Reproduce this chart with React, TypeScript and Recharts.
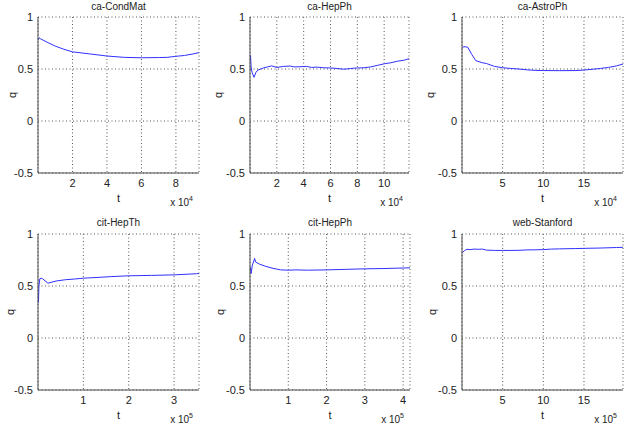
import React from "react";
import { CartesianGrid, Line, LineChart, XAxis, YAxis } from "recharts";

// q(t) traces, t in edges added
const condMatT = [200, 800, 1500, 5000, 10000, 15000, 20000, 25000, 30000, 40000, 50000, 60000, 70000, 75000, 80000, 85000, 90000, 93400];
const condMatQ = [0.78, 0.8, 0.79, 0.76, 0.72, 0.69, 0.665, 0.655, 0.645, 0.625, 0.612, 0.608, 0.61, 0.612, 0.622, 0.63, 0.645, 0.657];

const hepPhT = [200, 400, 800, 1500, 3000, 4500, 6000, 8000, 10000, 13000, 16000, 20000, 25000, 30000, 33000, 38000, 42000, 46000, 50000, 55000, 60000, 65000, 70000, 75000, 80000, 85000, 90000, 95000, 100000, 105000, 110000, 115000, 118500];
const hepPhQ = [0.6, 0.63, 0.52, 0.47, 0.42, 0.47, 0.49, 0.5, 0.51, 0.52, 0.53, 0.515, 0.525, 0.528, 0.52, 0.522, 0.525, 0.515, 0.518, 0.512, 0.51, 0.505, 0.498, 0.505, 0.51, 0.512, 0.52, 0.535, 0.55, 0.56, 0.575, 0.585, 0.6];

const astroPhT = [500, 2000, 7000, 12000, 17000, 25000, 30000, 40000, 50000, 60000, 70000, 80000, 90000, 100000, 120000, 140000, 150000, 160000, 170000, 180000, 190000, 198000];
const astroPhQ = [0.7, 0.715, 0.71, 0.64, 0.58, 0.56, 0.553, 0.525, 0.512, 0.505, 0.5, 0.492, 0.487, 0.485, 0.484, 0.485, 0.49, 0.497, 0.505, 0.515, 0.53, 0.548];

const citHepThT = [1000, 2000, 4000, 7000, 10000, 22000, 40000, 60000, 80000, 100000, 130000, 160000, 200000, 250000, 300000, 350000, 355000];
const citHepThQ = [0.34, 0.5, 0.57, 0.575, 0.57, 0.527, 0.548, 0.56, 0.567, 0.575, 0.582, 0.59, 0.598, 0.602, 0.607, 0.618, 0.62];

const citHepPhT = [1000, 2000, 3000, 6000, 10000, 12000, 15000, 25000, 40000, 60000, 80000, 100000, 120000, 150000, 200000, 250000, 300000, 350000, 400000, 418000];
const citHepPhQ = [0.68, 0.64, 0.62, 0.7, 0.74, 0.765, 0.73, 0.71, 0.69, 0.67, 0.655, 0.652, 0.655, 0.652, 0.655, 0.66, 0.665, 0.668, 0.673, 0.675];

const stanfordT = [5000, 30000, 60000, 100000, 150000, 200000, 250000, 300000, 400000, 500000, 600000, 700000, 800000, 900000, 1000000, 1100000, 1200000, 1400000, 1500000, 1700000, 1900000, 1980000];
const stanfordQ = [0.82, 0.84, 0.853, 0.85, 0.855, 0.853, 0.855, 0.845, 0.842, 0.842, 0.842, 0.843, 0.847, 0.848, 0.85, 0.855, 0.857, 0.86, 0.862, 0.865, 0.87, 0.872];

const qTicks = [-0.5, 0, 0.5, 1];
const ticks1e4Even = [20000, 40000, 60000, 80000];
const ticks1e4HepPh = [20000, 40000, 60000, 80000, 100000];
const ticks1e4By5 = [50000, 100000, 150000];
const ticks1e5ByOne = [100000, 200000, 300000];
const ticks1e5HepPh = [100000, 200000, 300000, 400000];
const ticks1e5By5 = [500000, 1000000, 1500000];

const FONT = "'Liberation Sans', Arial, sans-serif";
const BOX = "#4a4a4a";
const TXT = "#222";

type PanelDef = {
  title: string;
  t: number[];
  q: number[];
  xMax: number;
  ticks: number[];
  exp: number;
  left: number;
  top: number;
  w: number;
  qDx: number;
};

const panels: PanelDef[] = [
  { title: "ca-CondMat", t: condMatT, q: condMatQ, xMax: 93400, ticks: ticks1e4Even, exp: 4, left: 38, top: 17, w: 161, qDx: -26 },
  { title: "ca-HepPh", t: hepPhT, q: hepPhQ, xMax: 118500, ticks: ticks1e4HepPh, exp: 4, left: 250, top: 17, w: 159, qDx: -32 },
  { title: "ca-AstroPh", t: astroPhT, q: astroPhQ, xMax: 198000, ticks: ticks1e4By5, exp: 4, left: 462, top: 17, w: 161, qDx: -32 },
  { title: "cit-HepTh", t: citHepThT, q: citHepThQ, xMax: 355000, ticks: ticks1e5ByOne, exp: 5, left: 38, top: 234, w: 161, qDx: -28 },
  { title: "cit-HepPh", t: citHepPhT, q: citHepPhQ, xMax: 418000, ticks: ticks1e5HepPh, exp: 5, left: 250, top: 234, w: 160, qDx: -30 },
  { title: "web-Stanford", t: stanfordT, q: stanfordQ, xMax: 1980000, ticks: ticks1e5By5, exp: 5, left: 462, top: 234, w: 161, qDx: -30 },
];

const PLOT_H = 156;
const PAD_L = 38;
const PAD_T = 17;
const PAD_R = 3;
const PAD_B = 40;

const tickStyle = { fontSize: 11, fontFamily: FONT, fill: TXT };

function Panel({ p }: { p: PanelDef }) {
  const data = p.t.map((t, i) => ({ t, q: p.q[i] }));
  const scale = Math.pow(10, p.exp);
  const cx = PAD_L + p.w / 2;
  const bottom = PAD_T + PLOT_H;
  const text: React.CSSProperties = { position: "absolute", fontFamily: FONT, fontSize: 10, color: TXT, whiteSpace: "nowrap", lineHeight: "12px" };
  return (
    <div style={{ position: "absolute", left: p.left - PAD_L, top: p.top - PAD_T }}>
      <LineChart
        width={PAD_L + p.w + PAD_R}
        height={PAD_T + PLOT_H + PAD_B}
        data={data}
        margin={{ top: PAD_T, right: PAD_R, left: 0, bottom: 0 }}
      >
        <CartesianGrid stroke="#555" strokeDasharray="1 2.5" strokeWidth={1} />
        <XAxis
          dataKey="t"
          type="number"
          domain={[0, p.xMax]}
          ticks={p.ticks}
          tickFormatter={(v: number) => String(Math.round((v / scale) * 10) / 10)}
          allowDataOverflow
          height={PAD_B}
          axisLine={{ stroke: BOX }}
          tickLine={false}
          tickSize={2}
          tickMargin={4}
          tick={tickStyle}
        />
        <XAxis xAxisId="top" orientation="top" type="number" domain={[0, p.xMax]} height={0} tick={false} tickLine={false} axisLine={{ stroke: BOX }} />
        <YAxis
          type="number"
          domain={[-0.5, 1]}
          ticks={qTicks}
          width={PAD_L}
          axisLine={{ stroke: BOX }}
          tickLine={false}
          tickSize={2}
          tickMargin={3}
          tick={tickStyle}
        />
        <YAxis yAxisId="right" orientation="right" type="number" domain={[-0.5, 1]} width={0} tick={false} tickLine={false} axisLine={{ stroke: BOX }} />
        <Line dataKey="q" stroke="#3030ff" strokeWidth={1} dot={false} isAnimationActive={false} />
      </LineChart>
      <div style={{ ...text, left: cx, top: p.top < 100 ? 1 : 0, transform: "translateX(-50%)" }}>{p.title}</div>
      <div style={{ ...text, fontSize: 11, left: PAD_L + p.qDx, top: PAD_T + PLOT_H / 2, transform: "translate(-50%, -50%) rotate(-90deg)" }}>q</div>
      <div style={{ ...text, fontSize: 11, left: cx, top: bottom + 19, transform: "translateX(-50%)" }}>t</div>
      <div style={{ ...text, left: PAD_L + p.w - 6, top: bottom + 24, transform: "translateX(-100%)" }}>
        x 10<span style={{ fontSize: 7, position: "relative", top: -5 }}>{p.exp}</span>
      </div>
    </div>
  );
}

export default function App() {
  return (
    <div style={{ position: "absolute", left: 0, top: 0, width: 626, height: 429, background: "#fff", overflow: "hidden" }}>
      {panels.map((p) => (
        <Panel key={p.title} p={p} />
      ))}
    </div>
  );
}
